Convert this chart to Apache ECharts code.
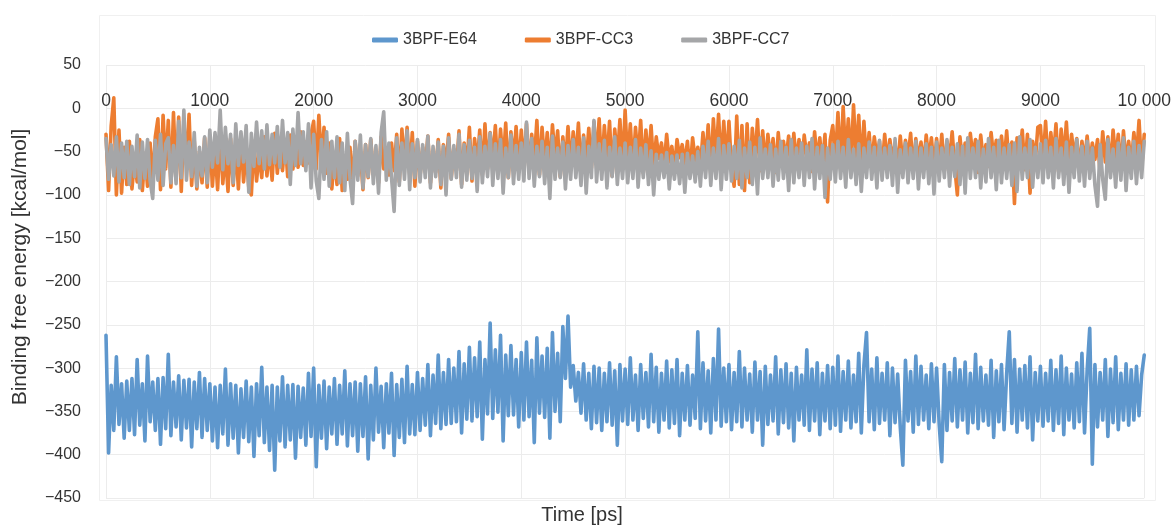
<!DOCTYPE html>
<html>
<head>
<meta charset="utf-8">
<script src="https://cdn.jsdelivr.net/npm/echarts@6/dist/echarts.min.js"></script>
<style>
html,body{margin:0;padding:0;background:#fff;}
#chart{width:1174px;height:525px;}
</style>
</head>
<body>
<div id="chart"></div>
<script>
// Time axis: 0 .. 10 000 ps, samples every 25 ps
const timeMin = 0;
const timeMax = 10000;
const xTicks = [0, 1000, 2000, 3000, 4000, 5000, 6000, 7000, 8000, 9000, 10000];
const yTicks = [50, 0, -50, -100, -150, -200, -250, -300, -350, -400, -450];
const seriesNames = ['3BPF-E64', '3BPF-CC3', '3BPF-CC7'];

// 3BPF-E64 binding free energy [kcal/mol]
const e64 = [
-262,-398,-320,-372,-287,-365,-318,-381,-315,-372,-312,-377,-290,-366,-318,-384,-286,-362,-316,-372,-312,-388,-311,-370,-284,-378,-316,-368,-309,-383,-314,-369,-313,-391,-316,-370,-305,-380,-312,-372,
-318,-384,-322,-392,-320,-376,-301,-389,-318,-381,-320,-398,-324,-380,-315,-385,-322,-402,-318,-378,-299,-386,-322,-395,-320,-418,-322,-384,-310,-391,-320,-383,-319,-404,-321,-380,-323,-389,-306,-379,
-300,-414,-320,-381,-315,-393,-322,-376,-312,-388,-320,-376,-303,-390,-318,-378,-316,-396,-318,-379,-310,-405,-320,-383,-300,-374,-321,-392,-318,-375,-306,-401,-319,-380,-313,-386,-298,-376,-319,-377,
-305,-372,-312,-366,-296,-378,-308,-364,-285,-370,-305,-365,-290,-364,-300,-362,-281,-375,-295,-359,-276,-361,-288,-356,-270,-382,-290,-353,-248,-358,-279,-351,-262,-384,-285,-355,-274,-354,-290,-368,
-282,-360,-270,-356,-291,-386,-265,-352,-286,-357,-277,-381,-259,-350,-283,-362,-252,-312,-240,-322,-297,-338,-305,-352,-295,-360,-306,-370,-298,-363,-300,-372,-306,-362,-294,-366,-303,-389,-296,-361,
-301,-365,-288,-360,-308,-372,-296,-358,-305,-368,-284,-362,-299,-374,-306,-360,-292,-369,-302,-364,-290,-378,-306,-360,-297,-366,-308,-358,-258,-370,-294,-361,-303,-375,-289,-360,-255,-367,-300,-362,
-296,-371,-305,-362,-281,-368,-300,-360,-307,-374,-293,-360,-304,-389,-298,-365,-308,-361,-287,-376,-302,-363,-295,-369,-306,-384,-299,-360,-308,-366,-279,-372,-301,-361,-294,-377,-306,-361,-297,-370,
-299,-366,-286,-373,-304,-360,-292,-369,-308,-362,-283,-375,-297,-259,-362,-301,-371,-288,-364,-306,-360,-294,-378,-300,-363,-307,-368,-412,-291,-361,-304,-374,-286,-365,-298,-360,-308,-370,-295,-362,
-300,-365,-408,-296,-372,-305,-361,-289,-368,-302,-360,-293,-375,-306,-363,-284,-370,-299,-361,-308,-366,-291,-380,-303,-362,-296,-371,-306,-258,-364,-290,-374,-301,-360,-297,-369,-287,-383,-305,-361,
-298,-367,-306,-361,-291,-372,-302,-364,-286,-377,-300,-360,-307,-369,-294,-362,-283,-375,-303,-254,-411,-296,-368,-305,-360,-290,-379,-301,-363,-287,-371,-306,-360,-295,-366,-302,-360,-298,-355,-308,-285
];

// 3BPF-CC3 binding free energy [kcal/mol]
const cc3 = [
-30,-95,-20,12,-100,-25,-98,-45,-88,-38,-93,-60,-85,-36,-95,-52,-90,-40,-87,-33,-12,-94,-8,-70,-14,-91,-5,-82,-10,-96,-15,-65,-7,-89,-38,-93,-50,-86,-34,-91,
-32,-90,-45,-94,-28,-87,-50,-96,-35,-89,-40,-93,-30,-85,-48,-91,-100,-38,-84,-52,-80,-33,-78,-46,-83,-29,-75,-42,-72,-36,-79,-31,-70,-44,-68,-27,-66,-39,-63,-30,
-15,-70,-8,-62,-22,-75,-40,-93,-55,-88,-35,-95,-60,-82,-45,-91,-38,-78,-50,-94,-42,-80,-36,-74,-55,-86,-33,-70,-48,-77,-40,-72,-30,-85,-24,-68,-22,-76,-28,-90,
-38,-78,-45,-70,-32,-86,-50,-74,-36,-92,-42,-66,-30,-81,-47,-72,-26,-88,-40,-69,-22,-84,-35,-64,-25,-77,-18,-70,-28,-60,-20,-75,-24,-66,-17,-80,-27,-62,-21,-72,
-25,-68,-18,-74,-30,-62,-14,-77,-22,-65,-28,-72,-19,-58,-26,-79,-33,-66,-21,-70,-27,-61,-17,-75,-31,-64,-23,-69,-16,-60,-12,-73,-20,-63,-15,-78,-24,-59,-13,-71,
-2,-66,-18,-72,-22,-60,-14,-75,-25,-64,-20,-70,-33,-58,-40,-68,-30,-62,-44,-71,-36,-57,-42,-65,-38,-74,-34,-60,-45,-69,-28,-63,-19,-76,-12,-61,-7,-70,-15,-66,
-15,-70,-90,-9,-88,-20,-95,-18,-86,-23,-64,-13,-72,-26,-68,-30,-61,-35,-74,-28,-66,-38,-59,-32,-71,-29,-63,-36,-69,-31,-57,-40,-73,-27,-62,-34,-67,-30,-108,-37,
-20,-62,-5,-70,2,-58,-12,-66,4,-60,-8,-72,-15,-64,-28,-68,-33,-57,-38,-71,-30,-63,-36,-59,-41,-69,-32,-65,-37,-56,-29,-74,-35,-61,-39,-67,-31,-60,-34,-70,
-35,-66,-30,-72,-38,-59,-27,-68,-100,-33,-63,-40,-70,-29,-57,-36,-74,-31,-61,-42,-67,-28,-58,-37,-73,-32,-64,-26,-69,-39,-110,-34,-60,-25,-71,-30,-98,-38,-62,-22,
-20,-65,-15,-70,-28,-58,-18,-73,-24,-61,-16,-68,-30,-57,-35,-71,-38,-63,-32,-66,-40,-59,-36,-74,-27,-62,-33,-69,-25,-60,-30,-72,-26,-64,-38,-67,-28,-58,-14,-70,-30
];

// 3BPF-CC7 binding free energy [kcal/mol]
const cc7 = [
-35,-82,-42,-78,-33,-85,-40,-80,-38,-88,-44,-79,-31,-92,-39,-81,-36,-84,-104,-37,-83,-30,-89,-41,-34,-86,-43,-87,-15,-80,-2,-83,-39,-79,-28,-90,-45,-78,-33,-86,
-25,-68,-28,-63,-2,-71,-22,-64,-30,-86,-18,-66,-27,-62,-20,-97,-29,-67,-16,-64,-26,-70,-19,-65,-30,-63,-21,-68,-14,-63,-28,-88,-24,-66,-5,-64,-27,-72,-18,-92,
-30,-84,-104,-36,-82,-27,-90,-38,-80,-33,-86,-40,-95,-29,-81,-110,-38,-83,-31,-92,-42,-79,-35,-87,-43,-98,-28,-4,-83,-40,-80,-119,-34,-89,-40,-82,-26,-94,-41,-80,
-36,-85,-42,-80,-32,-92,-44,-79,-39,-88,-44,-100,-34,-82,-43,-80,-30,-91,-42,-83,-37,-81,-45,-96,-33,-86,-44,-79,-29,-89,-41,-81,-36,-98,-46,-80,-31,-87,-43,-82,
-40,-84,-16,-81,-35,-90,-44,-79,-38,-87,-45,-104,-32,-82,-46,-80,-39,-93,-43,-82,-36,-80,-45,-89,-34,-98,-44,-80,-14,-85,-41,-82,-37,-92,-45,-79,-33,-88,-46,-81,
-40,-86,-45,-81,-36,-91,-46,-80,-42,-88,-49,-100,-53,-82,-54,-80,-51,-93,-55,-82,-54,-87,-53,-97,-52,-81,-55,-85,-50,-90,-44,-80,-38,-89,-46,-81,-35,-94,-43,-82,
-41,-84,-44,-81,-37,-92,-46,-80,-39,-88,-45,-99,-34,-81,-47,-80,-42,-90,-47,-83,-38,-81,-45,-95,-36,-86,-46,-80,-40,-89,-44,-80,-35,-93,-45,-81,-43,-103,-46,-82,
-42,-85,-38,-81,-45,-91,-36,-80,-47,-88,-41,-96,-46,-80,-39,-82,-45,-92,-37,-83,-46,-80,-43,-89,-35,-97,-48,-80,-40,-86,-46,-81,-38,-93,-46,-80,-41,-87,-45,-99,
-39,-84,-46,-80,-36,-90,-45,-79,-41,-88,-44,-98,-34,-81,-46,-80,-38,-92,-47,-85,-35,-80,-45,-94,-37,-86,-46,-81,-42,-89,-40,-96,-33,-82,-46,-80,-36,-91,-45,-80,
-41,-86,-37,-80,-45,-92,-35,-80,-46,-88,-39,-97,-45,-80,-36,-84,-44,-90,-38,-81,-46,-89,-113,-42,-82,-105,-36,-80,-47,-91,-40,-83,-34,-95,-45,-81,-38,-87,-43,-80,-38
];

const colors = ['#5e97cd', '#ed7d31', '#a5a6a8'];

function toPairs(arr) {
  const step = (timeMax - timeMin) / (arr.length - 1);
  return arr.map((v, i) => [timeMin + i * step, v]);
}

const chart = echarts.init(document.getElementById('chart'), null, {renderer: 'canvas'});
const font = '"Liberation Sans", Arial, sans-serif';
const seriesData = [e64, cc3, cc7];

// grid geometry
const gridTop = 65, gridBottom = 27, chartH = 525;
const plotH = chartH - gridTop - gridBottom;
const zeroOffset = plotH * (50 - 0) / (50 - (-450)); // distance from top of grid to y=0

chart.setOption({
  animation: false,
  backgroundColor: '#ffffff',
  color: colors,
  textStyle: {fontFamily: font},
  legend: {
    top: 27,
    left: 367,
    itemWidth: 26,
    itemHeight: 5,
    itemGap: 48,
    icon: 'roundRect',
    textStyle: {fontSize: 16, color: '#333', fontFamily: font},
    data: seriesNames
  },
  grid: {left: 106, right: 23, top: gridTop, bottom: gridBottom, containLabel: false},
  xAxis: {
    type: 'value',
    min: timeMin,
    max: timeMax,
    interval: 1000,
    position: 'top',
    offset: -zeroOffset,
    axisLine: {show: false, onZero: false},
    axisTick: {show: false},
    axisLabel: {
      fontSize: 17.5, color: '#333', fontFamily: font, margin: -2,
      formatter: v => xTicks.includes(v) ? (v >= 10000 ? String(v).replace(/(\d)(?=(\d{3})$)/, '$1 ') : String(v)) : ''
    },
    splitLine: {show: true, lineStyle: {color: '#ececec', width: 1}}
  },
  yAxis: {
    type: 'value',
    min: -450,
    max: 50,
    interval: 50,
    axisLine: {show: false},
    axisTick: {show: false},
    axisLabel: {
      fontSize: 16, color: '#333', fontFamily: font, margin: 25,
      formatter: v => yTicks.includes(v) ? String(v).replace('-', '\u2212') : ''
    },
    splitLine: {show: true, lineStyle: {color: '#ececec', width: 1}}
  },
  graphic: [
    {type: 'rect', silent: true, z: -1, shape: {x: 99.5, y: 15.5, width: 1056, height: 485}, style: {fill: 'none', stroke: '#f0f0f0', lineWidth: 1}},
    {type: 'text', x: 582, y: 515, style: {text: 'Time [ps]', fontSize: 20, fill: '#333', fontFamily: font, align: 'center', verticalAlign: 'middle'}},
    {type: 'text', x: 20, y: 267, rotation: Math.PI / 2, style: {text: 'Binding free energy [kcal/mol]', fontSize: 21, fill: '#333', fontFamily: font, align: 'center', verticalAlign: 'middle'}}
  ],
  series: seriesNames.map((name, k) => ({
    name: name,
    type: 'line',
    data: toPairs(seriesData[k]),
    symbol: 'none',
    showSymbol: false,
    sampling: null,
    lineStyle: {width: 3.6, color: colors[k], join: 'round', cap: 'round'},
    itemStyle: {color: colors[k]},
    z: 2 + k
  }))
});
</script>
</body>
</html>
